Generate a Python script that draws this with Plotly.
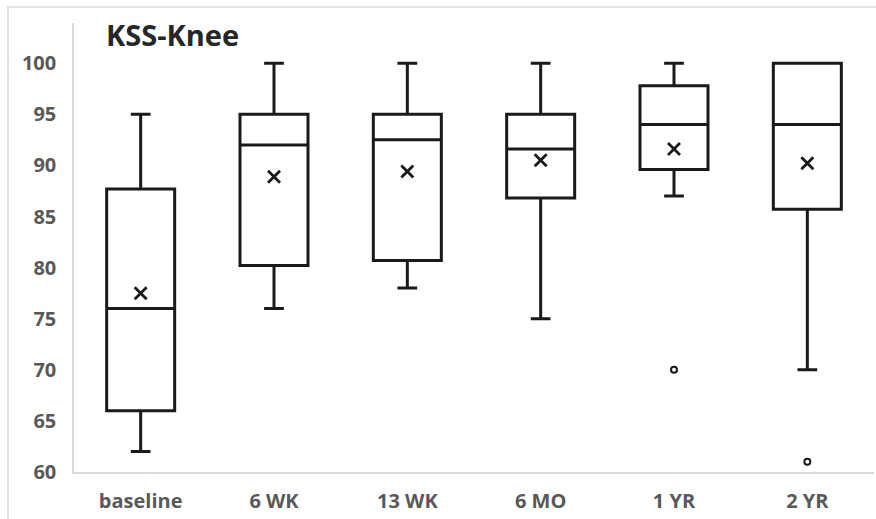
import plotly.graph_objects as go

categories = ["baseline", "6 WK", "13 WK", "6 MO", "1 YR", "2 YR"]
lower_whisker = [62, 76, 78, 75, 87, 70]
q1_vals = [66, 80.2, 80.7, 86.8, 89.6, 85.7]
median_vals = [76, 92, 92.5, 91.6, 94, 94]
q3_vals = [87.7, 95, 95, 95, 97.8, 100]
upper_whisker = [95, 100, 100, 100, 100, 100]
mean_vals = [77.5, 88.9, 89.4, 90.5, 91.6, 90.2]
outlier_cats = ["1 YR", "2 YR"]
outlier_vals = [70, 61]
y_ticks = [60, 65, 70, 75, 80, 85, 90, 95, 100]

W, H = 876, 519
L, R, T, B = 74, 2, 23, 47
pw = W - L - R
ph = H - T - B

fig = go.Figure()
fig.add_trace(go.Box(
    x=categories,
    q1=q1_vals, median=median_vals, q3=q3_vals,
    lowerfence=lower_whisker, upperfence=upper_whisker,
    fillcolor="white",
    line=dict(color="#1a1a1a", width=3),
    width=0.51,
    whiskerwidth=0.29,
    boxpoints=False,
    showlegend=False,
    hoverinfo="skip",
))
fig.add_trace(go.Scatter(
    x=categories, y=mean_vals, mode="markers",
    marker=dict(symbol="x-thin", size=12, line=dict(color="#1a1a1a", width=2.8)),
    showlegend=False, hoverinfo="skip",
))
fig.add_trace(go.Scatter(
    x=outlier_cats, y=outlier_vals, mode="markers",
    marker=dict(symbol="circle-open", size=6, color="#1a1a1a", line=dict(color="#1a1a1a", width=2)),
    showlegend=False, hoverinfo="skip",
))

font_family = "'Open Sans', Lato, sans-serif"
tick_font = dict(size=20, color="#595959", family=font_family, weight="bold")
fig.update_layout(
    width=W, height=H,
    margin=dict(l=L, r=R, t=T, b=B),
    paper_bgcolor="white", plot_bgcolor="white",
    font=dict(family=font_family, color="#595959"),
    xaxis=dict(
        type="category", categoryorder="array", categoryarray=categories,
        range=[-0.5, 5.5], showgrid=False, zeroline=False,
        showline=True, linecolor="#d9d9d9", linewidth=1.5,
        ticks="outside", ticklen=10, tickcolor="rgba(0,0,0,0)",
        tickfont=tick_font,
    ),
    yaxis=dict(
        range=[60, 60 + (472 - 23) / 10.22], tickvals=y_ticks,
        showgrid=False, zeroline=False,
        showline=True, linecolor="#d9d9d9", linewidth=1.5,
        ticks="outside", ticklen=12, tickcolor="rgba(0,0,0,0)",
        tickfont=tick_font,
    ),
    annotations=[dict(
        text="KSS-Knee", xref="paper", yref="paper",
        x=(104 - L) / pw, y=(H - B - 35) / ph, xanchor="left", yanchor="middle",
        showarrow=False,
        font=dict(size=29, color="#262626", family=font_family, weight="bold"),
    )],
    shapes=[dict(
        type="rect", xref="paper", yref="paper", layer="below",
        x0=(8 - L) / pw, x1=(W + 5 - L) / pw,
        y0=(H - B - (H + 5)) / ph, y1=(H - B - 7) / ph,
        line=dict(color="#d9d9d9", width=1.5), fillcolor="rgba(0,0,0,0)",
    )],
)
fig.write_html("out.html")
